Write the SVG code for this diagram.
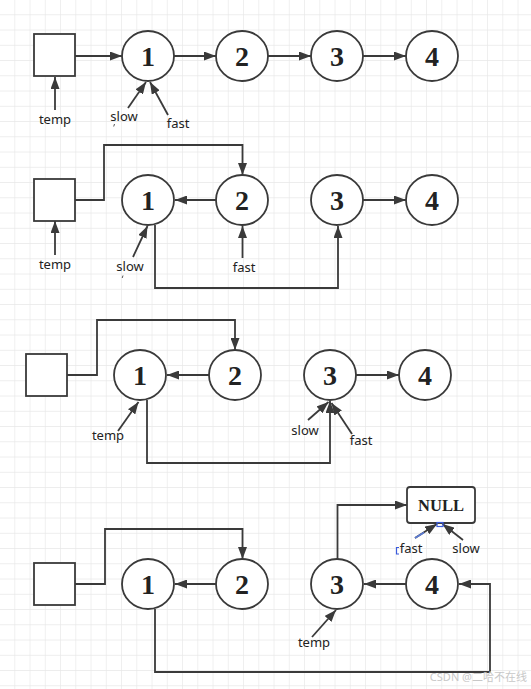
<svg xmlns="http://www.w3.org/2000/svg" width="531" height="689" viewBox="0 0 531 689">
<style>
.nd{fill:#fff;stroke:#3a3a3a;stroke-width:1.8}
.num{font-family:"Liberation Serif","Times New Roman",serif;font-weight:bold;font-size:28px;fill:#222;text-anchor:middle}
.nul{font-family:"Liberation Serif","Times New Roman",serif;font-weight:bold;font-size:16.5px;fill:#222;text-anchor:middle}
.lb{font-family:"Noto Sans","Liberation Sans",Arial,sans-serif;font-size:13px;fill:#222;text-anchor:middle}
.ln{fill:none;stroke:#3a3a3a;stroke-width:1.8}
.ar{marker-end:url(#ah)}
.sel{fill:none;stroke:#3b5bdb;stroke-width:1.2}
.wm{font-family:"Noto Sans","Noto Sans CJK SC",sans-serif;font-size:11px;fill:#c8c8c8;text-anchor:end}
</style>
<defs>
<pattern id="grid" width="15.25" height="15.25" patternUnits="userSpaceOnUse">
<path d="M15.25 0V15.25M0 15.25H15.25" fill="none" stroke="#e8e8e8" stroke-width="1.3"/>
</pattern>
<marker id="ah" markerUnits="userSpaceOnUse" markerWidth="12" markerHeight="9" refX="12" refY="4.5" orient="auto">
<path d="M0,0 L12,4.5 L0,9 z" fill="#3a3a3a"/>
</marker>
</defs>
<rect width="531" height="689" fill="#fff"/>
<rect width="531" height="689" fill="url(#grid)"/>

<!-- Row 1 -->
<g id="r1-temp-box"><rect class="nd" x="34" y="34" width="41" height="42"/></g>
<g id="r1-n1"><ellipse class="nd" cx="148" cy="56" rx="26" ry="25"/><text class="num" x="148" y="66">1</text></g>
<g id="r1-n2"><ellipse class="nd" cx="242" cy="56" rx="26" ry="25"/><text class="num" x="242" y="66">2</text></g>
<g id="r1-n3"><ellipse class="nd" cx="337" cy="56" rx="26" ry="25"/><text class="num" x="337" y="66">3</text></g>
<g id="r1-n4"><ellipse class="nd" cx="432" cy="56" rx="26" ry="25"/><text class="num" x="432" y="66">4</text></g>
<g id="r1-labels">
<text class="lb" x="55" y="124">temp</text>
<text class="lb" x="124" y="121">slow</text>
<text class="lb" x="178" y="128">fast</text>
</g>

<!-- Row 2 -->
<g id="r2-temp-box"><rect class="nd" x="34" y="179" width="41" height="42"/></g>
<g id="r2-n1"><ellipse class="nd" cx="148" cy="200" rx="26" ry="25"/><text class="num" x="148" y="210">1</text></g>
<g id="r2-n2"><ellipse class="nd" cx="242" cy="200" rx="26" ry="25"/><text class="num" x="242" y="210">2</text></g>
<g id="r2-n3"><ellipse class="nd" cx="337" cy="200" rx="26" ry="25"/><text class="num" x="337" y="210">3</text></g>
<g id="r2-n4"><ellipse class="nd" cx="432" cy="200" rx="26" ry="25"/><text class="num" x="432" y="210">4</text></g>
<g id="r2-labels">
<text class="lb" x="55" y="269">temp</text>
<text class="lb" x="130" y="271">slow</text>
<text class="lb" x="244" y="272">fast</text>
</g>

<!-- Row 3 -->
<g id="r3-temp-box"><rect class="nd" x="26" y="354" width="41" height="42"/></g>
<g id="r3-n1"><ellipse class="nd" cx="140" cy="375" rx="26" ry="25"/><text class="num" x="140" y="385">1</text></g>
<g id="r3-n2"><ellipse class="nd" cx="235" cy="375" rx="26" ry="25"/><text class="num" x="235" y="385">2</text></g>
<g id="r3-n3"><ellipse class="nd" cx="330" cy="375" rx="26" ry="25"/><text class="num" x="330" y="385">3</text></g>
<g id="r3-n4"><ellipse class="nd" cx="425" cy="375" rx="26" ry="25"/><text class="num" x="425" y="385">4</text></g>
<g id="r3-labels">
<text class="lb" x="108" y="440">temp</text>
<text class="lb" x="305" y="435">slow</text>
<text class="lb" x="361" y="445">fast</text>
</g>

<!-- Row 4 -->
<g id="r4-temp-box"><rect class="nd" x="34" y="563" width="41" height="42"/></g>
<g id="r4-n1"><ellipse class="nd" cx="148" cy="584" rx="26" ry="25"/><text class="num" x="148" y="594">1</text></g>
<g id="r4-n2"><ellipse class="nd" cx="242" cy="584" rx="26" ry="25"/><text class="num" x="242" y="594">2</text></g>
<g id="r4-n3"><ellipse class="nd" cx="337" cy="584" rx="26" ry="25"/><text class="num" x="337" y="594">3</text></g>
<g id="r4-n4"><ellipse class="nd" cx="432" cy="584" rx="26" ry="25"/><text class="num" x="432" y="594">4</text></g>
<g id="r4-null"><rect class="nd" x="407" y="487" width="68" height="36" rx="3"/><text class="nul" x="441" y="511">NULL</text></g>
<g id="r4-labels">
<text class="lb" x="314" y="647">temp</text>
<text class="lb" x="411" y="553">fast</text>
<text class="lb" x="466" y="553">slow</text>
</g>

<g id="connectors">
<!-- row 1 -->
<path class="ln ar" d="M75,56 H122"/>
<path class="ln ar" d="M174,56 H216"/>
<path class="ln ar" d="M268,56 H311"/>
<path class="ln ar" d="M363,56 H406"/>
<path class="ln ar" d="M55,110 V77"/>
<path class="ln ar" d="M128,108 L146,82"/>
<path class="ln ar" d="M168,115 L150,82"/>
<!-- row 2 -->
<path class="ln ar" d="M75,200 H104 V145 H242.5 V175"/>
<path class="ln ar" d="M216,200 H175"/>
<path class="ln ar" d="M363,200 H406"/>
<path class="ln ar" d="M155,225 V288 H338 V226"/>
<path class="ln ar" d="M55,255 V221"/>
<path class="ln ar" d="M133,257 L147.5,226"/>
<path class="ln ar" d="M242.5,258 V226"/>
<!-- row 3 -->
<path class="ln ar" d="M67,375 H97 V320 H235 V350"/>
<path class="ln ar" d="M209,375 H167"/>
<path class="ln ar" d="M356,375 H399"/>
<path class="ln ar" d="M147,400 V463 H330 V401"/>
<path class="ln ar" d="M118,431 L138.5,402"/>
<path class="ln ar" d="M308,420 L328.5,402"/>
<path class="ln ar" d="M352,434 L331.5,403"/>
<!-- row 4 -->
<path class="ln ar" d="M75,584 H105 V529 H242.5 V559"/>
<path class="ln ar" d="M216,584 H175"/>
<path class="ln ar" d="M406,584 H364"/>
<path class="ln ar" d="M155,609 V672 H490 V584 H459"/>
<path class="ln ar" d="M337.5,559 V505 H407"/>
<path class="ln ar" d="M415,538 L437,524"/>
<path class="ln ar" d="M463,540 L442.5,524"/>
<path class="ln ar" d="M312,637 L336,610"/>
</g>

<g id="artifacts">
<path d="M114.5,124 l-0.8,2.5" stroke="#555" stroke-width="1" fill="none"/>
<path d="M123,275.5 l-0.8,2.5" stroke="#555" stroke-width="1" fill="none"/>
<path d="M415,538 L424,532.5" stroke="#5b7bd6" stroke-width="1.6" fill="none"/>
<rect class="sel" x="437" y="522.5" width="6" height="4"/>
<path class="sel" d="M399,547.5 H396.5 V554 H399"/>
</g>

<text class="wm" x="527" y="681">CSDN @二哈不在线</text>
</svg>
